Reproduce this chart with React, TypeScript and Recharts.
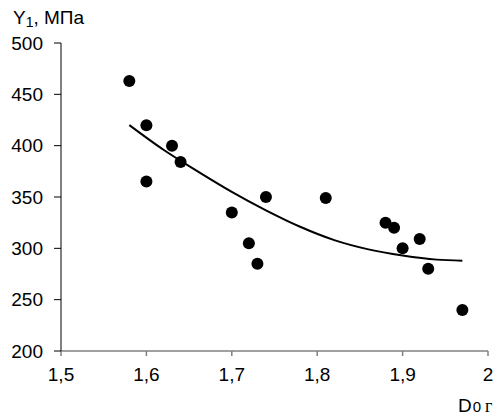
import React from 'react';
import { ComposedChart, XAxis, YAxis, Scatter, Line } from 'recharts';

// measured points
const pointX = [1.58, 1.60, 1.60, 1.63, 1.64, 1.70, 1.72, 1.73, 1.74, 1.81, 1.88, 1.89, 1.90, 1.92, 1.93, 1.97];
const pointY = [463, 420, 365, 400, 384, 335, 305, 285, 350, 349, 325, 320, 300, 309, 280, 240];

// trend curve
const trendX = [1.58, 1.62, 1.66, 1.70, 1.74, 1.78, 1.82, 1.86, 1.90, 1.94, 1.97];
const trendY = [420, 396, 375, 355, 337, 321, 308, 299, 293, 289, 288];

const xTicks = [1.5, 1.6, 1.7, 1.8, 1.9, 2];
const yTicks = [200, 250, 300, 350, 400, 450, 500];

const FONT = '"Liberation Sans", Arial, sans-serif';

const points = pointX.map((x, i) => ({ x, y: pointY[i] }));
const trend = trendX.map((x, i) => ({ x, y: trendY[i] }));

const Dot = (props: any) => <circle cx={props.cx} cy={props.cy} r={6} fill="#000" />;

export default function App() {
  return (
    <div style={{ position: 'absolute', left: 0, top: 0, width: 496, height: 416, background: '#fff' }}>
      <ComposedChart width={496} height={416} margin={{ top: 43, right: 8, bottom: 0, left: 0 }}>
        <XAxis
          type="number"
          dataKey="x"
          domain={[1.5, 2]}
          ticks={xTicks}
          allowDataOverflow
          height={65}
          tickSize={5}
          tickMargin={12}
          axisLine={{ stroke: '#808080', strokeWidth: 1.5 }}
          tickLine={{ stroke: '#808080', strokeWidth: 1.5 }}
          tick={{ fill: '#000', fontSize: 19, fontFamily: FONT }}
          tickFormatter={(v: number) => String(v).replace('.', ',')}
        />
        <YAxis
          type="number"
          domain={[200, 500]}
          ticks={yTicks}
          width={61}
          tickSize={7}
          tickMargin={11}
          axisLine={{ stroke: '#000' }}
          tickLine={{ stroke: '#000' }}
          tick={{ fill: '#000', fontSize: 19, fontFamily: FONT }}
        />
        <Line
          data={trend}
          dataKey="y"
          type="monotone"
          stroke="#000"
          strokeWidth={2}
          dot={false}
          activeDot={false}
          isAnimationActive={false}
        />
        <Scatter data={points} dataKey="y" shape={Dot} isAnimationActive={false} />
      </ComposedChart>
      <svg width={496} height={416} style={{ position: 'absolute', left: 0, top: 0, pointerEvents: 'none' }}>
        <text x={13} y={24} fontFamily={FONT} fontSize={19} fill="#000">
          Y<tspan fontSize={14} dy={3}>1</tspan>
          <tspan dy={-3}>, МПа</tspan>
        </text>
        <text x={458} y={412} fontFamily={FONT} fontSize={19} fill="#000">
          D<tspan fontSize={15} dx={1}>0</tspan>
          <tspan fontFamily='"Liberation Serif", serif' fontSize={18} dx={4}>г</tspan>
        </text>
      </svg>
    </div>
  );
}
